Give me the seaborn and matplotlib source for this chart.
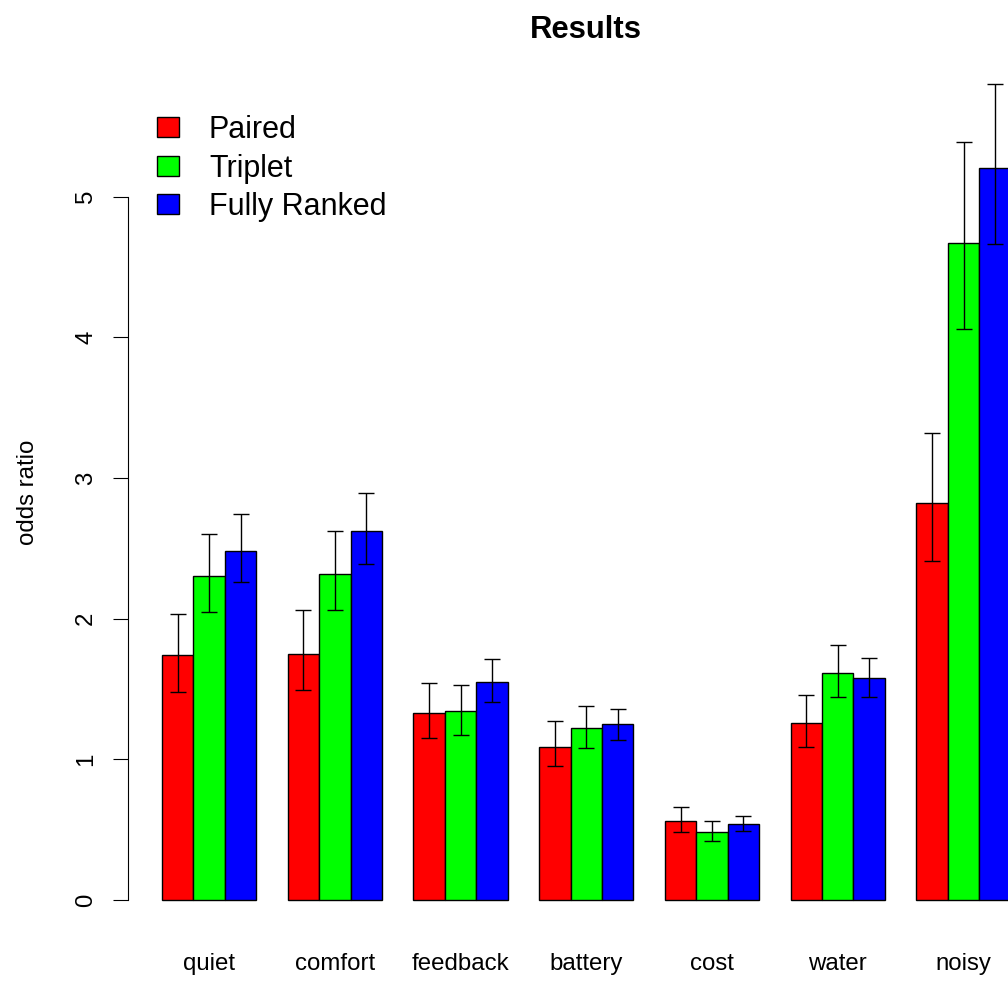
import matplotlib
import matplotlib.pyplot as plt
import numpy as np
import pandas as pd
import seaborn as sns

matplotlib.use('Agg')

# Datos
categories = ["quiet", "comfort", "feedback", "battery", "cost", "water", "noisy"]
methods = ["Paired", "Triplet", "Fully Ranked"]
colors = ["#FF0000", "#00FF00", "#0000FF"]

paired = [1.74, 1.75, 1.33, 1.09, 0.56, 1.26, 2.82]
paired_lo = [1.48, 1.49, 1.15, 0.95, 0.48, 1.09, 2.41]
paired_hi = [2.03, 2.06, 1.54, 1.27, 0.66, 1.46, 3.32]

triplet = [2.30, 2.32, 1.34, 1.22, 0.48, 1.61, 4.67]
triplet_lo = [2.05, 2.06, 1.17, 1.08, 0.42, 1.44, 4.06]
triplet_hi = [2.60, 2.62, 1.53, 1.38, 0.56, 1.81, 5.39]

fully = [2.48, 2.62, 1.55, 1.25, 0.54, 1.58, 5.20]
fully_lo = [2.26, 2.39, 1.41, 1.14, 0.49, 1.44, 4.66]
fully_hi = [2.74, 2.89, 1.71, 1.36, 0.60, 1.72, 5.80]

means = [paired, triplet, fully]
lows = [paired_lo, triplet_lo, fully_lo]
highs = [paired_hi, triplet_hi, fully_hi]

df = pd.DataFrame({
    "feature": categories * 3,
    "method": [m for m in methods for _ in categories],
    "odds": paired + triplet + fully,
})

sns.set_style("white")
plt.rcParams['font.family'] = ['Liberation Sans', 'DejaVu Sans']
plt.rcParams.update({
    'text.color': 'black',
    'axes.labelcolor': 'black',
    'xtick.color': 'black',
    'ytick.color': 'black',
})

fig = plt.figure(figsize=(10.08, 9.82), dpi=100)
# región del gráfico (se extiende más allá del borde derecho, como en el original)
ax = fig.add_axes([128 / 1008, (982 - 932.6) / 982, 916.6 / 1008, 881 / 982])

sns.barplot(
    data=df, x="feature", y="odds", hue="method",
    order=categories, hue_order=methods, palette=colors,
    saturation=1, width=0.75, gap=0, errorbar=None,
    edgecolor="black", linewidth=1.0, ax=ax
)

# Barras de error asimétricas
for cont, mid, lo, hi in zip(ax.containers, means, lows, highs):
    xs = [p.get_x() + p.get_width() / 2 for p in cont]
    mid = np.array(mid)
    yerr = [mid - np.array(lo), np.array(hi) - mid]
    ax.errorbar(xs, mid, yerr=yerr, fmt='none', ecolor='black',
                elinewidth=1.0, capsize=6.1, capthick=1.0)

ax.set_xlim(-0.645, 6.645)
ax.set_ylim(-0.232, 6.03)

# Ejes estilo R
for side in ["top", "right", "bottom"]:
    ax.spines[side].set_visible(False)
ax.spines["left"].set_bounds(0, 5)
ax.spines["left"].set_color("black")
ax.spines["left"].set_linewidth(0.8)

ax.set_yticks(range(6))
ax.set_yticklabels([str(i) for i in range(6)], rotation=90, va='center')
ax.tick_params(axis='y', left=True, direction='out', length=10.8,
               width=0.8, color='black', labelcolor='black', pad=11.5,
               labelsize=17.3)
ax.tick_params(axis='x', length=0, pad=14.6, labelsize=17.3,
               labelcolor='black')

ax.set_xlabel("")
ax.set_ylabel("odds ratio", fontsize=17.3, color='black')
ax.yaxis.label.set_va('center')
ax.yaxis.set_label_coords((28 - 128) / 916.6, 0.5)

ax.set_title("Results", fontsize=22.3, fontweight='bold', pad=9.8,
             color='black')

# Leyenda sin marco
handles, labels = ax.get_legend_handles_labels()
ax.get_legend().remove()
fig.legend(handles, labels, loc='upper left',
           bbox_to_anchor=(157 / 1008, 1 - 115 / 982),
           frameon=False, fontsize=22, handlelength=0.72, handleheight=0.62,
           handletextpad=0.98, labelspacing=0.28, borderpad=0,
           borderaxespad=0, labelcolor='black')

fig.savefig("out.png", dpi=100)
plt.close()
